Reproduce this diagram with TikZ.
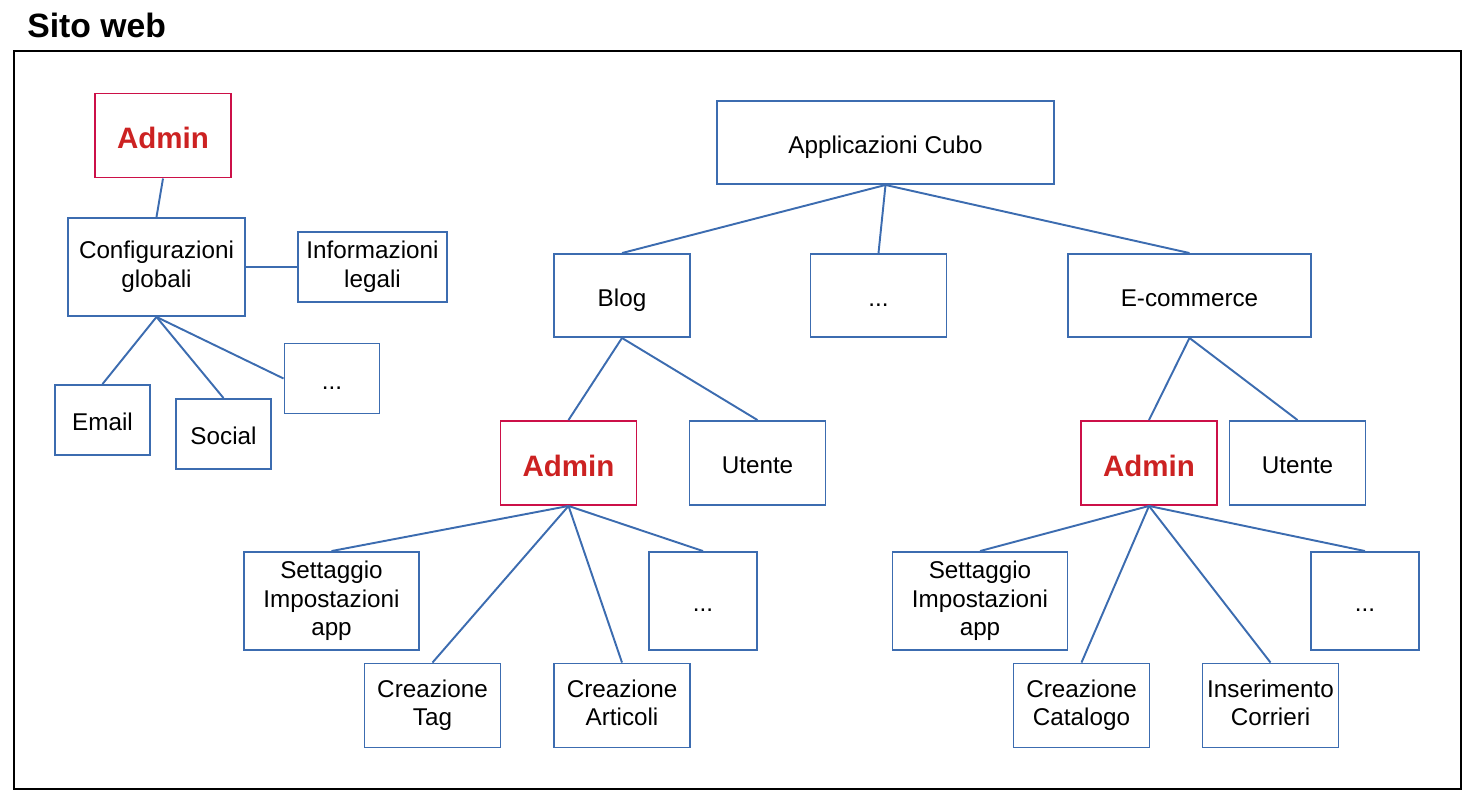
\documentclass[tikz,border=0pt]{standalone}
\usepackage{fontspec}
\setmainfont{Liberation Sans}
\usepackage{xcolor}
\usetikzlibrary{positioning}
\definecolor{boxblue}{RGB}{60,108,176}
\definecolor{adminborder}{RGB}{204,16,72}
\definecolor{admintext}{RGB}{204,34,34}
\newcommand\boxstrut{\rule[-0.212em]{0pt}{1.317em}}

\begin{document}
\begin{tikzpicture}[
x=0.02cm, y=-0.02cm,
    box/.style = {rectangle, draw=boxblue, line width=1.1pt, align=center,
        inner sep=1pt, font=\fontsize{13.8}{16.2}\selectfont,
        execute at begin node=\boxstrut, execute at end node=\boxstrut},
    admin/.style = {box, draw=adminborder, text=admintext,
        font=\fontsize{16.8}{19}\selectfont\bfseries},
    big/.style = {minimum width=2.72cm, minimum height=1.68cm},
    small/.style = {minimum width=1.9cm, minimum height=1.4cm},
    wide/.style = {minimum width=3.5cm, minimum height=1.96cm},
    narrow/.style = {minimum width=2.16cm, minimum height=1.96cm},
    link/.style = {draw=boxblue, line width=1.1pt},
]
\useasboundingbox (0,0) rectangle (1473,799);

\node[anchor=base west, inner sep=0pt, font=\fontsize{19.2}{22}\selectfont\bfseries] (title) at (27,37.5) {Sito web};
\draw[line width=1.4pt] (14,51) rectangle (1461,789);

% configurazioni
\node[admin, big] (adm) at (163,135.5) {Admin};
\node[box, minimum width=3.54cm, minimum height=1.96cm] (cfg) at (156.5,267) {Configurazioni\\globali};
\node[box, minimum width=2.98cm, minimum height=1.4cm] (info) at (372.5,267) {Informazioni\\legali};
\node[box, small] (email) at (102.5,420) {Email};
\node[box, small] (social) at (223.5,434) {Social};
\node[box, small] (cfgdots) at (332,378.5) {...};

\draw[link] (adm.south) -- (cfg.north);
\draw[link] (cfg.east) -- (info.west);
\draw[link] (cfg.south) -- (email.north);
\draw[link] (cfg.south) -- (social.north);
\draw[link] (cfg.south) -- (cfgdots.west);

% applicazioni
\node[box, minimum width=6.74cm, minimum height=1.66cm] (app) at (885.5,142.5) {Applicazioni Cubo};
\node[box, big, minimum height=1.66cm] (blog) at (622,295.5) {Blog};
\node[box, big, minimum height=1.66cm] (appdots) at (878.5,295.5) {...};
\node[box, minimum width=4.86cm, minimum height=1.66cm] (shop) at (1189.5,295.5) {E-commerce};

\draw[link] (app.south) -- (blog.north);
\draw[link] (app.south) -- (appdots.north);
\draw[link] (app.south) -- (shop.north);

% blog
\node[admin, big] (blogadm) at (568.5,463) {Admin};
\node[box, big] (blogusr) at (757.5,463) {Utente};
\node[box, wide] (blogset) at (331.5,601) {Settaggio\\Impostazioni\\app};
\node[box, big] (blogtag) at (432.5,705.5) {Creazione\\Tag};
\node[box, big] (blogart) at (622,705.5) {Creazione\\Articoli};
\node[box, narrow] (blogdots) at (703,601) {...};

\draw[link] (blog.south) -- (blogadm.north);
\draw[link] (blog.south) -- (blogusr.north);
\foreach \n in {blogset, blogtag, blogart, blogdots}
    \draw[link] (blogadm.south) -- (\n.north);

% e-commerce
\node[admin, big] (shopadm) at (1149,463) {Admin};
\node[box, big] (shopusr) at (1297.5,463) {Utente};
\node[box, wide] (shopset) at (980,601) {Settaggio\\Impostazioni\\app};
\node[box, big] (shopcat) at (1081.5,705.5) {Creazione\\Catalogo};
\node[box, big] (shopcor) at (1270.5,705.5) {Inserimento\\Corrieri};
\node[box, narrow] (shopdots) at (1365,601) {...};

\draw[link] (shop.south) -- (shopadm.north);
\draw[link] (shop.south) -- (shopusr.north);
\foreach \n in {shopset, shopcat, shopcor, shopdots}
    \draw[link] (shopadm.south) -- (\n.north);

\end{tikzpicture}
\end{document}
